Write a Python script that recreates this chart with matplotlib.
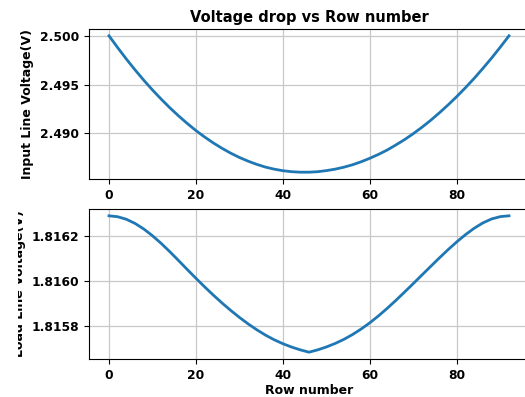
import matplotlib
matplotlib.use("Agg")
import matplotlib.pyplot as plt
from matplotlib.ticker import FormatStrFormatter
from matplotlib.transforms import Bbox, TransformedBbox, IdentityTransform

rows = list(range(0, 93, 2))

input_voltage = [
    2.50000, 2.49878, 2.49761, 2.49650, 2.49544, 2.49444, 2.49350, 2.49261,
    2.49178, 2.49100, 2.49027, 2.48961, 2.48900, 2.48845, 2.48795, 2.48751,
    2.48713, 2.48680, 2.48652, 2.48631, 2.48615, 2.48605, 2.48600, 2.48600,
    2.48605, 2.48616, 2.48631, 2.48651, 2.48676, 2.48707, 2.48743, 2.48783,
    2.48828, 2.48880, 2.48935, 2.48996, 2.49062, 2.49133, 2.49210, 2.49291,
    2.49377, 2.49468, 2.49564, 2.49666, 2.49772, 2.49884, 2.50000,
]

load_voltage = [
    1.8162900, 1.8162859, 1.8162746, 1.8162561, 1.8162314, 1.8162015,
    1.8161675, 1.8161304, 1.8160913, 1.8160516, 1.8160125, 1.8159744,
    1.8159378, 1.8159028, 1.8158698, 1.8158389, 1.8158101, 1.8157838,
    1.8157601, 1.8157395, 1.8157220, 1.8157071, 1.8156947, 1.8156844,
    1.8156947, 1.8157076, 1.8157230, 1.8157410, 1.8157626, 1.8157873,
    1.8158151, 1.8158459, 1.8158793, 1.8159148, 1.8159518, 1.8159894,
    1.8160275, 1.8160656, 1.8161033, 1.8161399, 1.8161745, 1.8162065,
    1.8162349, 1.8162586, 1.8162761, 1.8162864, 1.8162900,
]

W, H = 525, 397
fig = plt.figure(figsize=(W / 100, H / 100), dpi=100)

def px_axes(left, top, right, bottom):
    return fig.add_axes([left / W, 1 - bottom / H, (right - left) / W, (bottom - top) / H])

ax1 = px_axes(89, 29, 529, 179)
ax2 = px_axes(89, 209, 529, 359)

color = "#1f77b4"
ax1.plot(rows, input_voltage, color=color, lw=2.0)
ax2.plot(rows, load_voltage, color=color, lw=2.0)

ax1.set_yticks([2.490, 2.495, 2.500])
ax2.set_yticks([1.8158, 1.8160, 1.8162])
for ax in (ax1, ax2):
    ax.set_xticks([0, 20, 40, 60, 80])
    ax.grid(True, color="#c8c8c8", lw=0.9)
    ax.set_axisbelow(True)
    ax.tick_params(labelsize=8.8, length=3.5)
    for lab in ax.get_xticklabels() + ax.get_yticklabels():
        lab.set_fontweight("bold")

ax1.yaxis.set_major_formatter(FormatStrFormatter("%.3f"))
ax2.yaxis.set_major_formatter(FormatStrFormatter("%.4f"))

ax1.set_title("Voltage drop vs Row number", fontsize=10.5, fontweight="bold", pad=5)
ax1.set_ylabel("Input Line Voltage(V)", fontsize=9, fontweight="bold")
ax2.set_ylabel("Load Line Voltage(V)", fontsize=9, fontweight="bold")
ax2.set_xlabel("Row number", fontsize=9, fontweight="bold", labelpad=2)

clip = Bbox.from_extents(18, 0, W, H)
ax2.yaxis.label.set_clip_box(TransformedBbox(clip, IdentityTransform()))
ax2.yaxis.label.set_clip_on(True)

fig.savefig("out.png", dpi=100)
